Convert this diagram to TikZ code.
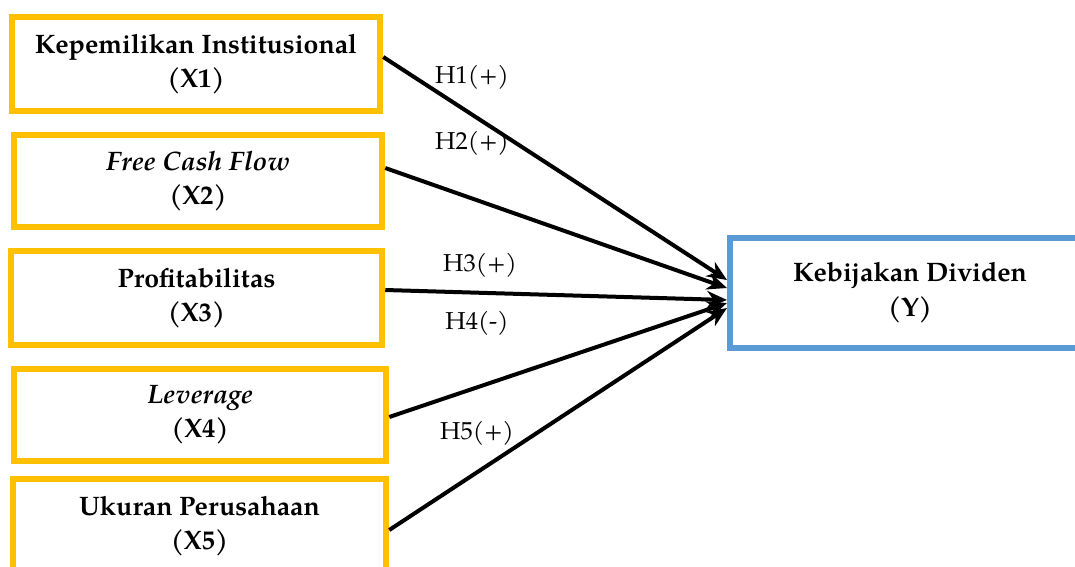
\documentclass[tikz,border=0pt]{standalone}
\usepackage{fontspec}
\setmainfont{texgyrepagella}[Extension=.otf, UprightFont=*-regular, BoldFont=*-bold, ItalicFont=*-italic, BoldItalicFont=*-bolditalic]
\usetikzlibrary{arrows.meta}
\definecolor{boxyellow}{HTML}{FFC000}
\definecolor{boxblue}{HTML}{5B9BD5}
\begin{document}
\begin{tikzpicture}[x=1pt,y=-1pt,
  varbox/.style={draw=boxyellow, line width=6.5pt, fill=white, align=center,
    inner sep=0pt, font=\fontsize{26.7}{34}\selectfont\bfseries},
  depbox/.style={draw=boxblue, line width=6pt, fill=white, align=center,
    inner sep=0pt, font=\fontsize{26.7}{35}\selectfont\bfseries},
  link/.style={line width=4pt, -{Stealth[length=20pt,width=17pt]}},
  hlabel/.style={font=\fontsize{24.5}{30}\selectfont, inner sep=0pt}]
\useasboundingbox (0,0) rectangle (1075,566);
\node[varbox, minimum width=368pt, minimum height=94pt] (b1) at (196,64) {Kepemilikan Institusional\\(X1)};
\node[varbox, minimum width=368pt, minimum height=92pt] (b2) at (198,181) {\textit{Free Cash Flow}\\(X2)};
\node[varbox, minimum width=371pt, minimum height=94pt] (b3) at (196.5,298) {Profitabilitas\\(X3)};
\node[varbox, minimum width=372pt, minimum height=92pt] (b4) at (200,415) {\textit{Leverage}\\(X4)};
\node[varbox, minimum width=373pt, minimum height=94pt] (b5) at (199.5,526) {Ukuran Perusahaan\\(X5)};
\node[depbox, minimum width=360pt, minimum height=110pt] (y) at (910,293) {Kebijakan Dividen\\(Y)};
\draw[link] ([yshift=7pt]b1.east) -- ([yshift=13pt]y.west);
\draw[link] ([yshift=13pt]b2.east) -- ([yshift=5pt]y.west);
\draw[link] ([yshift=8pt]b3.east) -- ([yshift=-7pt]y.west);
\draw[link] ([yshift=-2pt]b4.east) -- ([yshift=-10pt]y.west);
\draw[link] ([yshift=-4pt]b5.east) -- ([yshift=-15pt]y.west);
\node[hlabel] (h1) at (472,77) {H1(+)};
\node[hlabel] (h2) at (472,143) {H2(+)};
\node[hlabel] (h3) at (480,265) {H3(+)};
\node[hlabel] (h4) at (477,323) {H4(-)};
\node[hlabel] (h5) at (477,433) {H5(+)};
\end{tikzpicture}
\end{document}
